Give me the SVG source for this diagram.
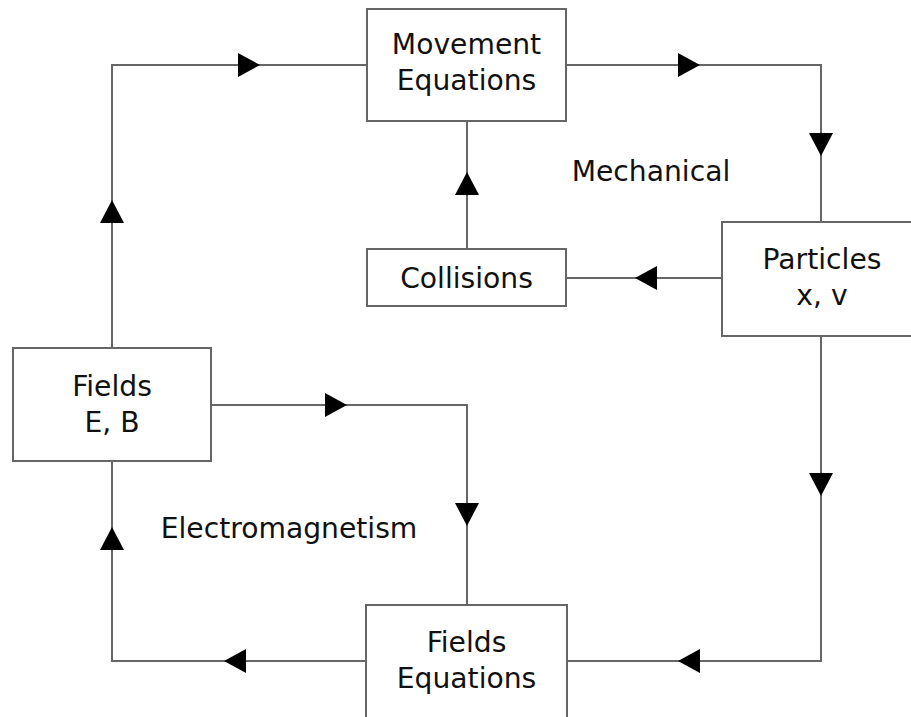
<svg xmlns="http://www.w3.org/2000/svg" width="911" height="717" viewBox="0 0 911 717">
<style>
.box{fill:#fff;stroke:#666;stroke-width:2}
.ln{fill:none;stroke:#666;stroke-width:2}
.ah{fill:#000}
text{font-family:"DejaVu Sans",sans-serif;font-size:28.2px;fill:#111;text-anchor:middle}
</style>
<rect width="911" height="717" fill="#fff"/>
<g id="connectors">
<path class="ln" d="M112,348 V65 H367"/>
<path class="ln" d="M566,65 H821 V222"/>
<path class="ln" d="M722,278 H566"/>
<path class="ln" d="M467,249 V121"/>
<path class="ln" d="M821,336 V661 H567"/>
<path class="ln" d="M211,405 H467 V605"/>
<path class="ln" d="M366,661 H112 V461"/>
<polygon class="ah" points="112,200 100,223 124,223"/>
<polygon class="ah" points="260,65 238,53 238,77"/>
<polygon class="ah" points="700,65 678,53 678,77"/>
<polygon class="ah" points="821,156 809,133 833,133"/>
<polygon class="ah" points="635,278 657,266 657,290"/>
<polygon class="ah" points="467,172 455,195 479,195"/>
<polygon class="ah" points="821,496 809,473 833,473"/>
<polygon class="ah" points="347,405 325,393 325,417"/>
<polygon class="ah" points="467,526 455,503 479,503"/>
<polygon class="ah" points="678,661 700,649 700,673"/>
<polygon class="ah" points="224,661 246,649 246,673"/>
<polygon class="ah" points="112,527 100,550 124,550"/>
</g>
<g id="movement">
<rect class="box" x="367" y="9" width="199" height="112"/>
<text x="466.500" y="54">Movement</text>
<text x="466.500" y="90">Equations</text>
</g>
<g id="particles">
<rect class="box" x="722" y="222" width="200" height="114"/>
<text x="822" y="269">Particles</text>
<text x="822" y="305">x, v</text>
</g>
<g id="collisions">
<rect class="box" x="367" y="249" width="199" height="57"/>
<text x="466.500" y="288">Collisions</text>
</g>
<g id="fields">
<rect class="box" x="13" y="348" width="198" height="113"/>
<text x="112" y="396">Fields</text>
<text x="112" y="432">E, B</text>
</g>
<g id="fieldsEquations">
<rect class="box" x="366" y="605" width="201" height="130"/>
<text x="466.500" y="652">Fields</text>
<text x="466.500" y="688">Equations</text>
</g>
<g id="labels">
<text x="651" y="181">Mechanical</text>
<text x="289" y="538">Electromagnetism</text>
</g>
</svg>
